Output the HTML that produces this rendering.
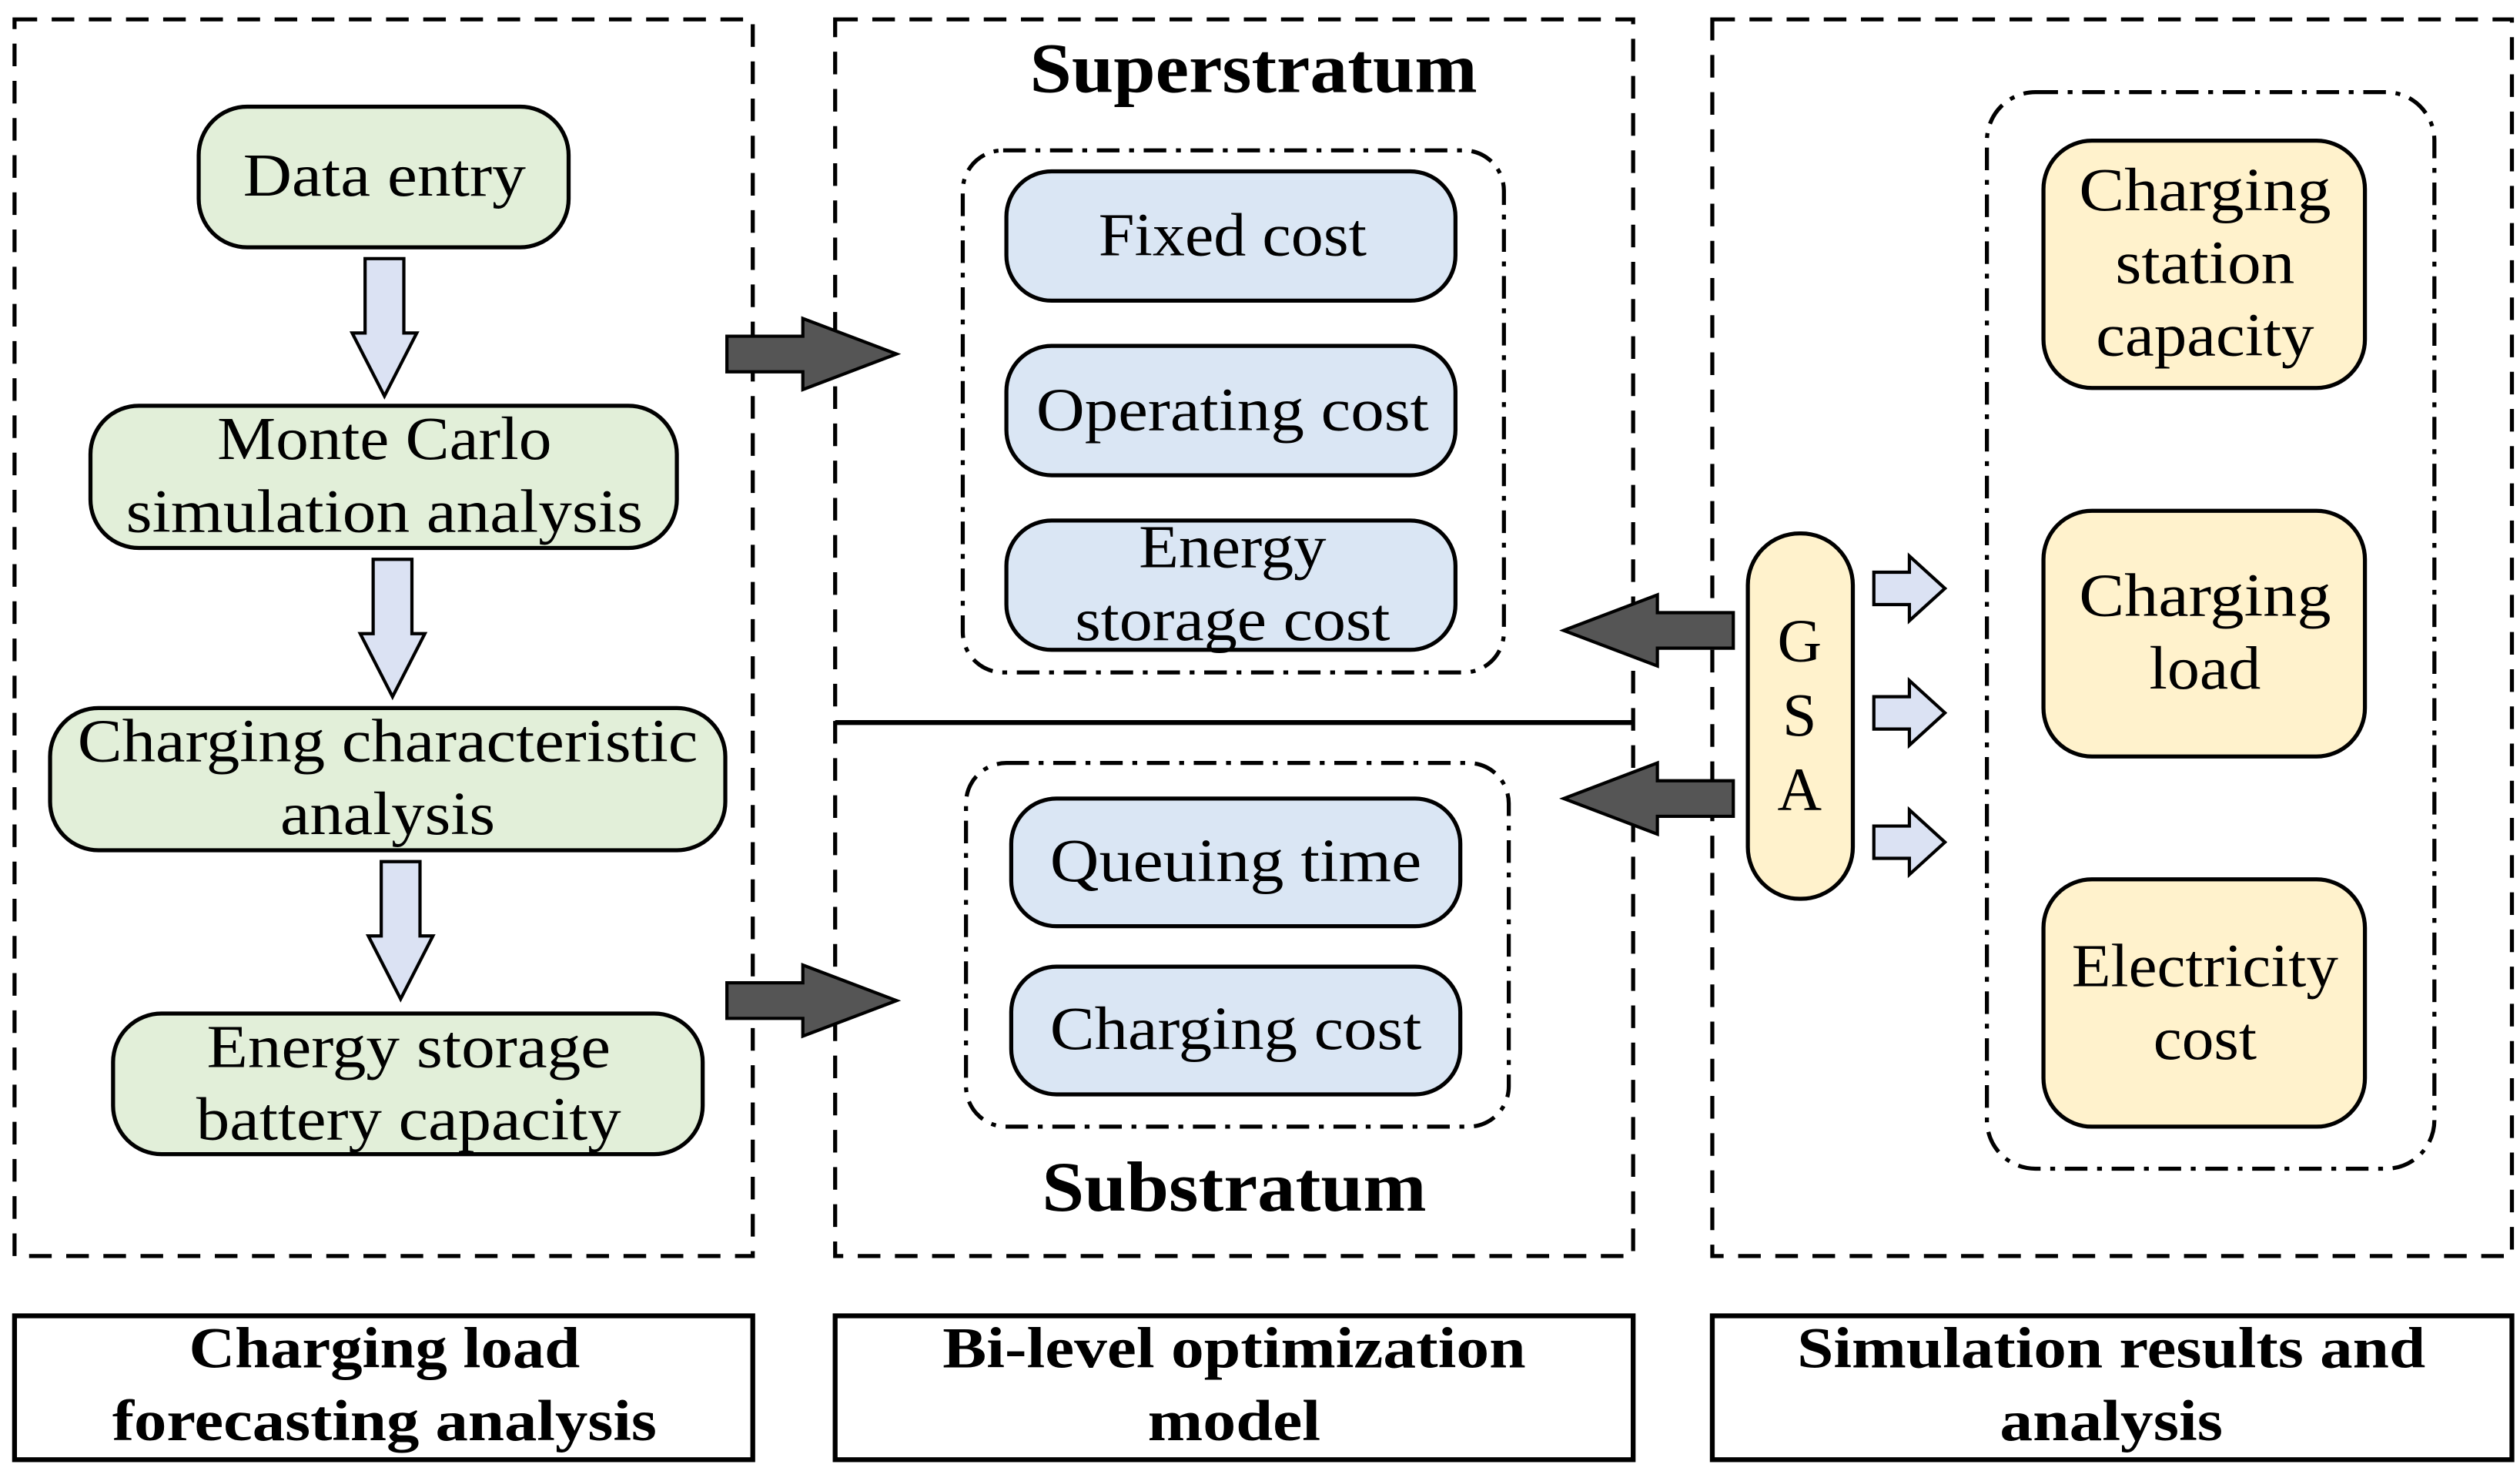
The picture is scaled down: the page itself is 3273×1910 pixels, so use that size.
<!DOCTYPE html>
<html><head><meta charset="utf-8"><style>html,body{margin:0;padding:0;background:#fff}svg{display:block}</style></head>
<body>
<svg width="3273" height="1910" viewBox="0 0 1560 910" preserveAspectRatio="none" xmlns="http://www.w3.org/2000/svg" font-family="'Liberation Serif', serif">
<defs>
<path id="dn" d="M-12,0 H12 V46 H20 L0,85 L-20,46 H-12 Z"/>
<path id="rt" d="M0,-11 H47 V-22 L105,0 L47,22 V11 H0 Z"/>
<path id="sm" d="M0,-10 H22 V-20 L44,0 L22,20 V10 H0 Z"/>
</defs>
<g fill="none" stroke="#000" stroke-width="2.5" stroke-dasharray="14,9">
<rect x="9" y="12" width="457" height="765"/>
<rect x="517" y="12" width="494" height="765"/>
<rect x="1060" y="12" width="495" height="765"/>
</g>
<line x1="517" y1="447" x2="1011" y2="447" stroke="#000" stroke-width="3"/>
<g fill="none" stroke="#000" stroke-width="2.5" stroke-dasharray="14,6,3,6">
<rect x="596" y="93" width="335" height="323" rx="25"/>
<rect x="598" y="472" width="336" height="225" rx="25"/>
<rect x="1230" y="57" width="277" height="666" rx="30"/>
</g>
<g fill="#fff" stroke="#000" stroke-width="3">
<rect x="9" y="814" width="457" height="89"/>
<rect x="517" y="814" width="494" height="89"/>
<rect x="1060" y="814" width="495" height="89"/>
</g>
<g font-weight="bold" font-size="36" text-anchor="middle" lengthAdjust="spacingAndGlyphs">
<text x="238" y="846" textLength="242" lengthAdjust="spacingAndGlyphs">Charging load</text><text x="238" y="891" textLength="337" lengthAdjust="spacingAndGlyphs">forecasting analysis</text>
<text x="764" y="846" textLength="361" lengthAdjust="spacingAndGlyphs">Bi-level optimization</text><text x="764" y="891" textLength="107" lengthAdjust="spacingAndGlyphs">model</text>
<text x="1307" y="846" textLength="389" lengthAdjust="spacingAndGlyphs">Simulation results and</text><text x="1307" y="891" textLength="138" lengthAdjust="spacingAndGlyphs">analysis</text>
<text x="776" y="57" font-size="44" textLength="277" lengthAdjust="spacingAndGlyphs">Superstratum</text>
<text x="764" y="749" font-size="44" textLength="238" lengthAdjust="spacingAndGlyphs">Substratum</text>
</g>
<g stroke="#000" stroke-width="2.5" fill="#e2efd9">
<rect x="123" y="66" width="229" height="87" rx="30"/>
<rect x="56" y="251" width="363" height="88" rx="30"/>
<rect x="31" y="438" width="418" height="88" rx="30"/>
<rect x="70" y="627" width="365" height="87" rx="30"/>
</g>
<g stroke="#000" stroke-width="2.5" fill="#dae6f4">
<rect x="623" y="106" width="278" height="80" rx="28"/>
<rect x="623" y="214" width="278" height="80" rx="28"/>
<rect x="623" y="322" width="278" height="80" rx="28"/>
<rect x="626" y="494" width="278" height="79" rx="28"/>
<rect x="626" y="598" width="278" height="79" rx="28"/>
</g>
<g stroke="#000" stroke-width="2.5" fill="#fff2cc">
<rect x="1082" y="330" width="65" height="226" rx="32"/>
<rect x="1265" y="87" width="199" height="153" rx="30"/>
<rect x="1265" y="316" width="199" height="152" rx="30"/>
<rect x="1265" y="544" width="199" height="153" rx="30"/>
</g>
<g fill="#dbe2f3" stroke="#000" stroke-width="2">
<use href="#dn" x="238" y="160"/>
<use href="#dn" x="243" y="346"/>
<use href="#dn" x="248" y="533"/>
<use href="#sm" x="1160" y="364"/>
<use href="#sm" x="1160" y="441"/>
<use href="#sm" x="1160" y="521"/>
</g>
<g fill="#555" stroke="#000" stroke-width="2">
<use href="#rt" x="450" y="219"/>
<use href="#rt" x="450" y="619"/>
<use href="#rt" transform="translate(1073,390) scale(-1,1)"/>
<use href="#rt" transform="translate(1073,494) scale(-1,1)"/>
</g>
<g font-size="38" text-anchor="middle" fill="#000">
<text x="238" y="121" textLength="175" lengthAdjust="spacingAndGlyphs">Data entry</text>
<text x="238" y="284" textLength="207" lengthAdjust="spacingAndGlyphs">Monte Carlo</text><text x="238" y="329" textLength="320" lengthAdjust="spacingAndGlyphs">simulation analysis</text>
<text x="240" y="471" textLength="384" lengthAdjust="spacingAndGlyphs">Charging characteristic</text><text x="240" y="516" textLength="133" lengthAdjust="spacingAndGlyphs">analysis</text>
<text x="253" y="660" textLength="250" lengthAdjust="spacingAndGlyphs">Energy storage</text><text x="253" y="705" textLength="263" lengthAdjust="spacingAndGlyphs">battery capacity</text>
<text x="763" y="158" textLength="166" lengthAdjust="spacingAndGlyphs">Fixed cost</text>
<text x="763" y="266" textLength="243" lengthAdjust="spacingAndGlyphs">Operating cost</text>
<text x="763" y="351" textLength="116" lengthAdjust="spacingAndGlyphs">Energy</text><text x="763" y="396" textLength="195" lengthAdjust="spacingAndGlyphs">storage cost</text>
<text x="765" y="545" textLength="230" lengthAdjust="spacingAndGlyphs">Queuing time</text>
<text x="765" y="649" textLength="230" lengthAdjust="spacingAndGlyphs">Charging cost</text>
<text x="1365" y="130" textLength="156" lengthAdjust="spacingAndGlyphs">Charging</text><text x="1365" y="175" textLength="111" lengthAdjust="spacingAndGlyphs">station</text><text x="1365" y="220" textLength="135" lengthAdjust="spacingAndGlyphs">capacity</text>
<text x="1365" y="381" textLength="156" lengthAdjust="spacingAndGlyphs">Charging</text><text x="1365" y="426" textLength="69" lengthAdjust="spacingAndGlyphs">load</text>
<text x="1365" y="610" textLength="165" lengthAdjust="spacingAndGlyphs">Electricity</text><text x="1365" y="655" textLength="64" lengthAdjust="spacingAndGlyphs">cost</text>
<text x="1114" y="409">G</text><text x="1114" y="455">S</text><text x="1114" y="501">A</text>
</g>
</svg>
</body></html>
